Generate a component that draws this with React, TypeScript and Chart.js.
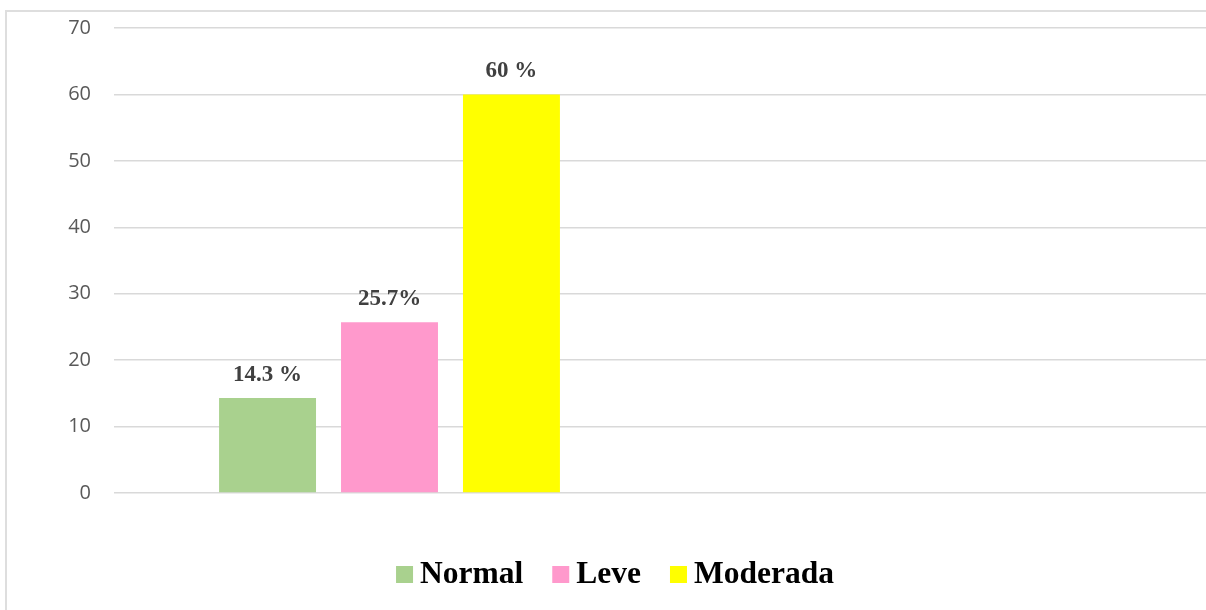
import { useEffect, useRef } from 'react';
import { Chart, registerables } from 'chart.js';

Chart.register(...registerables);

// Two category slots: the bars sit in the first, the second stays empty.
const categories = ['', ''];
const seriesNames = ['Normal', 'Leve', 'Moderada'];
const seriesValues = [14.3, 25.7, 60];
const valueLabels = ['14.3 %', '25.7%', '60 %'];
const seriesColors = ['#a9d18e', '#ff99cc', '#ffff00'];
const yTicks = [0, 10, 20, 30, 40, 50, 60, 70];

const CANVAS_W = 1226;
const CANVAS_H = 610;

export default function App() {
  const ref = useRef<HTMLCanvasElement>(null);

  useEffect(() => {
    const canvas = ref.current;
    if (!canvas) return;

    // Thin light-gray frame along the top and left edges of the chart.
    const frame = {
      id: 'frame',
      beforeDraw(chart: any) {
        const ctx = chart.ctx;
        ctx.save();
        ctx.fillStyle = '#dedede';
        ctx.fillRect(5, 10, chart.width, 2);
        ctx.fillRect(5, 10, 2, chart.height);
        ctx.restore();
      },
    };

    // Value tags above each bar.
    const valueTags = {
      id: 'valueTags',
      afterDatasetsDraw(chart: any) {
        const ctx = chart.ctx;
        ctx.save();
        ctx.font = 'bold 23px "Liberation Serif"';
        ctx.fillStyle = '#404040';
        ctx.textAlign = 'center';
        ctx.textBaseline = 'alphabetic';
        chart.data.datasets.forEach((_ds: any, i: number) => {
          const bar = chart.getDatasetMeta(i).data[0];
          if (bar) ctx.fillText(valueLabels[i], bar.x, bar.y - 17);
        });
        ctx.restore();
      },
    };

    // Legend row centred under the plot.
    const legendRow = {
      id: 'legendRow',
      afterDraw(chart: any) {
        const ctx = chart.ctx;
        ctx.save();
        ctx.font = 'bold 31.5px "Liberation Serif"';
        ctx.textBaseline = 'alphabetic';
        ctx.textAlign = 'left';
        const box = 17;
        const gapText = 7;
        const gapItem = 29;
        const datasets = chart.data.datasets;
        const widths = datasets.map((ds: any) => ctx.measureText(ds.label).width);
        const total =
          widths.reduce((a: number, w: number) => a + box + gapText + w, 0) +
          gapItem * (widths.length - 1);
        let x = 615 - total / 2;
        const baseline = 583;
        datasets.forEach((ds: any, i: number) => {
          ctx.fillStyle = ds.backgroundColor;
          ctx.fillRect(x, baseline - box, box, box);
          x += box + gapText;
          ctx.fillStyle = '#000000';
          ctx.fillText(ds.label, x, baseline);
          x += widths[i] + gapItem;
        });
        ctx.restore();
      },
    };

    const chart = new Chart(canvas, {
      type: 'bar',
      data: {
        labels: categories,
        datasets: seriesNames.map((name, i) => ({
          label: name,
          data: categories.map((_c, j) => (j === 0 ? seriesValues[i] : null)),
          backgroundColor: seriesColors[i],
          borderWidth: 0,
          categoryPercentage: 0.664,
          barPercentage: 0.795,
        })),
      },
      options: {
        responsive: false,
        animation: false,
        devicePixelRatio: 1,
        layout: { padding: { left: 0, right: 10, top: 28, bottom: 117 } },
        plugins: {
          legend: { display: false },
          tooltip: { enabled: false },
        },
        scales: {
          x: { display: false },
          y: {
            min: 0,
            max: 70,
            afterBuildTicks: (scale: any) => {
              scale.ticks = yTicks.map((v) => ({ value: v }));
            },
            afterFit: (scale: any) => {
              scale.width = 114;
              scale.paddingTop = 0;
              scale.paddingBottom = 0;
            },
            grid: { color: '#d9d9d9', lineWidth: 1.5, drawTicks: false },
            border: { display: false },
            ticks: {
              padding: 23,
              color: '#595959',
              font: { family: '"Open Sans"', size: 20 },
            },
          },
        },
      } as any,
      plugins: [frame, valueTags, legendRow],
    });

    return () => chart.destroy();
  }, []);

  return (
    <div
      style={{
        position: 'fixed',
        left: 0,
        top: 0,
        width: 1206,
        height: 610,
        overflow: 'hidden',
        background: '#ffffff',
      }}
    >
      <canvas
        ref={ref}
        width={CANVAS_W}
        height={CANVAS_H}
        style={{ display: 'block', width: CANVAS_W, height: CANVAS_H }}
      />
    </div>
  );
}
